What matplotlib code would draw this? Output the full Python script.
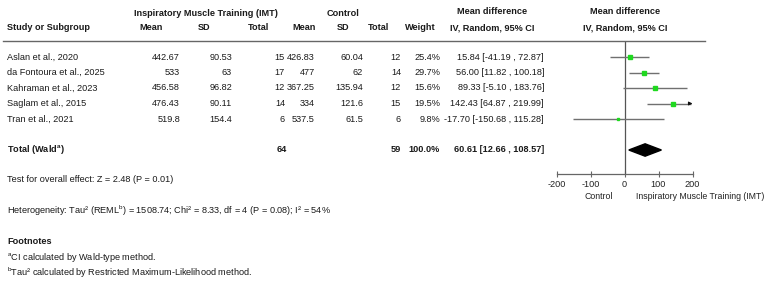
import matplotlib
matplotlib.use("Agg")
import matplotlib.pyplot as plt
from matplotlib.lines import Line2D
from matplotlib.patches import Polygon
import matplotlib.transforms as mtransforms

plt.rcParams['font.family'] = ['Liberation Sans', 'DejaVu Sans']
plt.rcParams['mathtext.fontset'] = 'custom'
plt.rcParams['mathtext.rm'] = 'Liberation Sans'

# ---------------- data ----------------
studies = ["Aslan et al., 2020", "da Fontoura et al., 2025", "Kahraman et al., 2023",
           "Saglam et al., 2015", "Tran et al., 2021"]
imt_mean = ["442.67", "533", "456.58", "476.43", "519.8"]
imt_sd = ["90.53", "63", "96.82", "90.11", "154.4"]
imt_n = [15, 17, 12, 14, 6]
ctl_mean = ["426.83", "477", "367.25", "334", "537.5"]
ctl_sd = ["60.04", "62", "135.94", "121.6", "61.5"]
ctl_n = [12, 14, 12, 15, 6]
weights = [25.4, 29.7, 15.6, 19.5, 9.8]
md = [15.84, 56.00, 89.33, 142.43, -17.70]
ci_low = [-41.19, 11.82, -5.10, 64.87, -150.68]
ci_high = [72.87, 100.18, 183.76, 219.99, 115.28]
total_imt = 64
total_ctl = 59
total_md = 60.61
total_low = 12.66
total_high = 108.57
xticks = [-200, -100, 0, 100, 200]

W, H = 776, 285
fig = plt.figure(figsize=(W / 100, H / 100), dpi=100)

def fx(px):
    return px / W

def fy(py):
    return 1 - py / H

# forest axes: x from -200..200 mapped to pixel 556..692, rows
ax_left, ax_right = 556.5, 692.5
ax_top, ax_bot = 41, 174.3
ax = fig.add_axes([fx(ax_left), fy(ax_bot), fx(ax_right - ax_left), (ax_bot - ax_top) / H])
row_px = 15.5
y_top = 1 - (57 - ax_top) / row_px
y_bot = 1 + (ax_bot - 57) / row_px
ax.set_xlim(-200, 200)
ax.set_ylim(y_bot, y_top)
ax.patch.set_alpha(0)
for s in ['top', 'left', 'right']:
    ax.spines[s].set_visible(False)
ax.spines['bottom'].set_color('#666666')
ax.spines['bottom'].set_linewidth(0.9)
ax.set_yticks([])
ax.set_xticks(xticks)
ax.set_xticklabels([str(t) for t in xticks])
ax.tick_params(axis='x', direction='inout', length=5, width=0.8, colors='#666666',
               labelcolor='#222222', labelsize=6.6, pad=1.5)

ax.axvline(0, color='#555555', lw=0.9)

FS = 6.6
green = '#1fd81f'
rows = list(range(1, len(studies) + 1))
for i, y in enumerate(rows):
    lo, hi = ci_low[i], ci_high[i]
    if hi > 200:
        ax.plot([lo, 196], [y, y], color='#707070', lw=1.0, solid_capstyle='butt')
        ax.annotate('', xy=(200, y), xytext=(190, y),
                    arrowprops=dict(arrowstyle='-|>', color='#111111', lw=0.8,
                                    mutation_scale=5, shrinkA=0, shrinkB=0))
    else:
        ax.plot([lo, hi], [y, y], color='#707070', lw=1.0, solid_capstyle='butt')
    ms = 0.72 * (2.2 + 0.08 * weights[i])
    ax.plot(md[i], y, marker='s', ms=ms, color=green, mec=green, zorder=3)

ty = 7
dh = 0.4
ax.add_patch(Polygon([[total_low, ty], [total_md, ty - dh], [total_high, ty], [total_md, ty + dh]],
                     closed=True, color='black', zorder=3))

ax.text(-35, y_bot + 22.0 / row_px, "Control", transform=ax.transData,
        ha='right', va='center', fontsize=6.3, color='#222222', clip_on=False)
ax.text(35, y_bot + 22.0 / row_px, "Inspiratory Muscle Training (IMT)", transform=ax.transData,
        ha='left', va='center', fontsize=6.3, color='#222222', clip_on=False)

# header separator line
fig.add_artist(Line2D([fx(3), fx(705)], [fy(41), fy(41)], color='#666666', lw=1.0))

tr = mtransforms.blended_transform_factory(fig.transFigure, ax.transData)

def txt(px, y, s, ha='right', bold=False, fs=FS):
    fig.text(fx(px), y, s, transform=tr, ha=ha, va='center', fontsize=fs,
             fontweight='bold' if bold else 'normal', color='#1a1a1a')

def htxt(px, py, s, ha='center', bold=True, fs=FS):
    fig.text(fx(px), fy(py), s, ha=ha, va='center', fontsize=fs,
             fontweight='bold' if bold else 'normal', color='#1a1a1a')

# headers
htxt(206, 13, "Inspiratory Muscle Training (IMT)")
htxt(343, 13, "Control")
htxt(492, 12, "Mean difference")
htxt(625, 12, "Mean difference")
htxt(7, 28, "Study or Subgroup", ha='left')
htxt(151, 28, "Mean")
htxt(204, 28, "SD")
htxt(259, 28, "Total")
htxt(304, 28, "Mean")
htxt(343, 28, "SD")
htxt(379, 28, "Total")
htxt(420, 28, "Weight")
htxt(492, 28, "IV, Random, 95% CI")
htxt(625, 28, "IV, Random, 95% CI")

for i, y in enumerate(rows):
    txt(7, y, studies[i], ha='left')
    txt(180, y, imt_mean[i])
    txt(232, y, imt_sd[i])
    txt(285, y, str(imt_n[i]))
    txt(315, y, ctl_mean[i])
    txt(363, y, ctl_sd[i])
    txt(401, y, str(ctl_n[i]))
    txt(440, y, f"{weights[i]:.1f}%")
    txt(544, y, f"{md[i]:.2f} [{ci_low[i]:.2f} , {ci_high[i]:.2f}]")

txt(7, ty, r"Total (Wald$^{\mathregular{a}}$)", ha='left', bold=True)
txt(287, ty, str(total_imt), bold=True)
txt(401, ty, str(total_ctl), bold=True)
txt(440, ty, f"{sum(weights):.1f}%", bold=True)
txt(544, ty, f"{total_md:.2f} [{total_low:.2f} , {total_high:.2f}]", bold=True)

htxt(7, 179, "Test for overall effect: Z = 2.48 (P = 0.01)", ha='left', bold=False)
htxt(7, 211, r"Heterogeneity: Tau² (REML$^{\mathregular{b}}$) = 1508.74; Chi² = 8.33, df = 4 (P = 0.08); I² = 54%",
     ha='left', bold=False)
htxt(7, 242, "Footnotes", ha='left', bold=True)
htxt(7, 258, r"$^{\mathregular{a}}$CI calculated by Wald-type method.", ha='left', bold=False)
htxt(7, 273, r"$^{\mathregular{b}}$Tau² calculated by Restricted Maximum-Likelihood method.", ha='left', bold=False)

fig.savefig("out.png", dpi=100)
